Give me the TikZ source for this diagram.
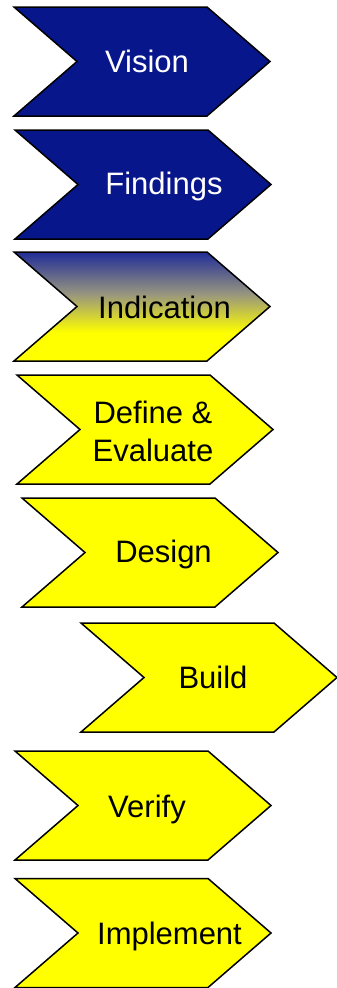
\documentclass[tikz,border=0pt]{standalone}
\usepackage{fontspec}
\setmainfont{Liberation Sans}
\usepackage{tikz}
\usetikzlibrary{calc}
\definecolor{chevblue}{RGB}{8,22,140}
\definecolor{chevyellow}{RGB}{255,255,0}
\definecolor{chevgrey}{RGB}{150,148,128}
\pgfdeclareverticalshading{indication}{100bp}{color(0bp)=(chevyellow); color(38bp)=(chevyellow); color(56bp)=(chevgrey); color(75bp)=(chevblue!90!white); color(100bp)=(chevblue!90!white)}
\def\chevron[#1](#2,#3){\draw[#1] (#2,#3) -- ++(193,0) -- ++(63,54.5) -- ++(-63,54.5) -- ++(-193,0) -- ++(63,-54.5) -- cycle;}
\tikzset{
	label/.style={font=\fontsize{31}{38}\selectfont, inner sep=0, anchor=base}
}

\begin{document}
\begin{tikzpicture}[x=1pt, y=-1pt]
			%%%%% START %%%%%
			\useasboundingbox (0, 0) rectangle (337, 988);
			
			\chevron[fill=chevblue, line width=1.5pt](14, 7);
			\node[label, white] (vision) at (147, 72) {Vision};
			
			\chevron[fill=chevblue, line width=1.5pt](15, 130);
			\node[label, white] (findings) at (164, 194) {Findings};
			
			\chevron[shading=indication, draw=black, line width=1.5pt](14, 252);
			\node[label] (indication) at (164.5, 318) {Indication};
			
			\chevron[fill=chevyellow, line width=1.5pt](17, 375);
			\node[label, anchor=center, align=center] (define) at (153, 431) {Define \&\\Evaluate};
			
			\chevron[fill=chevyellow, line width=1.5pt](22, 498);
			\node[label] (design) at (163.5, 562) {Design};
			
			\chevron[fill=chevyellow, line width=1.5pt](81, 623);
			\node[label] (build) at (213, 688) {Build};
			
			\chevron[fill=chevyellow, line width=1.5pt](15, 751);
			\node[label] (verify) at (147, 817) {Verify};
			
			\chevron[fill=chevyellow, line width=1.5pt](15, 878.5);
			\node[label] (implement) at (169.5, 944) {Implement};
			
			%%%%% END %%%%%
\end{tikzpicture}
\end{document}
